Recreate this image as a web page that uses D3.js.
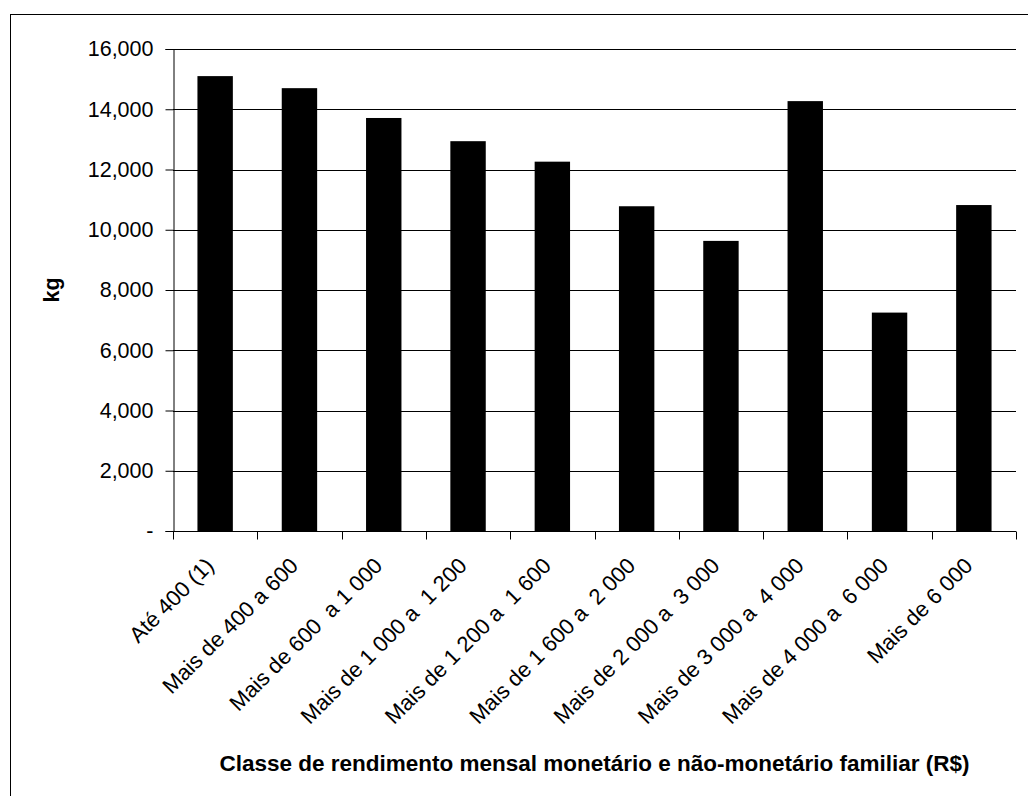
<!DOCTYPE html>
<html>
<head>
<meta charset="utf-8">
<script src="https://cdn.jsdelivr.net/npm/d3@7"></script>
<style>
  html, body { margin: 0; padding: 0; background: #fff; }
  svg { display: block; }
  text { font-family: Arial, "Liberation Sans", sans-serif; fill: #000; }
</style>
</head>
<body>
<svg id="chart" width="1028" height="796"></svg>
<script>
// Income classes (R$) and consumption per class (kg)
const categories = [
  "Até 400 (1)",
  "Mais de 400 a 600",
  "Mais de 600  a 1 000",
  "Mais de 1 000 a  1 200",
  "Mais de 1 200 a  1 600",
  "Mais de 1 600 a  2 000",
  "Mais de 2 000 a  3 000",
  "Mais de 3 000 a  4 000",
  "Mais de 4 000 a  6 000",
  "Mais de 6 000"
];
const values = [15100, 14700, 13710, 12940, 12260, 10780, 9630, 14270, 7250, 10820];
const yTicks = [0, 2000, 4000, 6000, 8000, 10000, 12000, 14000, 16000];
const xTitle = "Classe de rendimento mensal monetário e não-monetário familiar (R$)";
const yTitle = "kg";

const svg = d3.select("#chart");
const plot = { left: 173, right: 1016, top: 49, bottom: 531 };

// chart frame (extends past the right and bottom edges of the page)
svg.append("rect")
  .attr("x", 10.5).attr("y", 14.5)
  .attr("width", 1040).attr("height", 800)
  .attr("fill", "#fff").attr("stroke", "#000").attr("stroke-width", 1);

const x = d3.scaleBand().domain(categories).range([plot.left, plot.right])
  .paddingInner(0.58).paddingOuter(0.29);
const y = d3.scaleLinear().domain([0, 16000]).range([plot.bottom, plot.top]);

const fmt = d => d === 0 ? "-" : d3.format(",")(d);

// horizontal gridlines
svg.append("g").selectAll("line").data(yTicks.filter(d => d > 0)).join("line")
  .attr("x1", plot.left).attr("x2", plot.right)
  .attr("y1", d => Math.round(y(d)) + 0.5).attr("y2", d => Math.round(y(d)) + 0.5)
  .attr("stroke", "#000").attr("stroke-width", 1);

// bars
svg.append("g").selectAll("rect").data(values).join("rect")
  .attr("x", (d, i) => x(categories[i]))
  .attr("width", x.bandwidth())
  .attr("y", d => y(d))
  .attr("height", d => y(0) - y(d))
  .attr("fill", "#000");

// y axis
const yAxis = svg.append("g")
  .attr("transform", `translate(${plot.left + 0.5},0)`)
  .call(d3.axisLeft(y).tickValues(yTicks).tickFormat(fmt).tickSize(8).tickPadding(12));
yAxis.select(".domain").attr("stroke", "#000");
yAxis.selectAll(".tick line").attr("stroke", "#000");
yAxis.selectAll(".tick text")
  .attr("font-size", 21.5).attr("font-family", "Arial, 'Liberation Sans', sans-serif");

// x axis with ticks on band boundaries
const xAxisG = svg.append("g").attr("transform", `translate(0,${plot.bottom + 0.5})`);
xAxisG.append("line")
  .attr("x1", plot.left).attr("x2", plot.right)
  .attr("stroke", "#000");
const boundaries = d3.range(categories.length + 1).map(i => plot.left + i * (plot.right - plot.left) / categories.length);
xAxisG.selectAll("line.tk").data(boundaries).join("line").attr("class", "tk")
  .attr("x1", d => Math.round(d) + 0.5).attr("x2", d => Math.round(d) + 0.5)
  .attr("y1", 0).attr("y2", 8).attr("stroke", "#000");

// rotated category labels
svg.append("g").selectAll("text").data(categories).join("text")
  .attr("transform", d => `translate(${x(d) + x.bandwidth() / 2},${plot.bottom + 36}) rotate(-45)`)
  .attr("text-anchor", "end")
  .attr("font-size", 22)
  .style("white-space", "pre")
  .text(d => d);

// axis titles
svg.append("text")
  .attr("x", (plot.left + plot.right) / 2).attr("y", 771)
  .attr("text-anchor", "middle")
  .attr("font-size", 22.5).attr("font-weight", "bold")
  .text(xTitle);

svg.append("text")
  .attr("transform", "translate(59,290) rotate(-90)")
  .attr("text-anchor", "middle")
  .attr("font-size", 21.5).attr("font-weight", "bold")
  .text(yTitle);
</script>
</body>
</html>
